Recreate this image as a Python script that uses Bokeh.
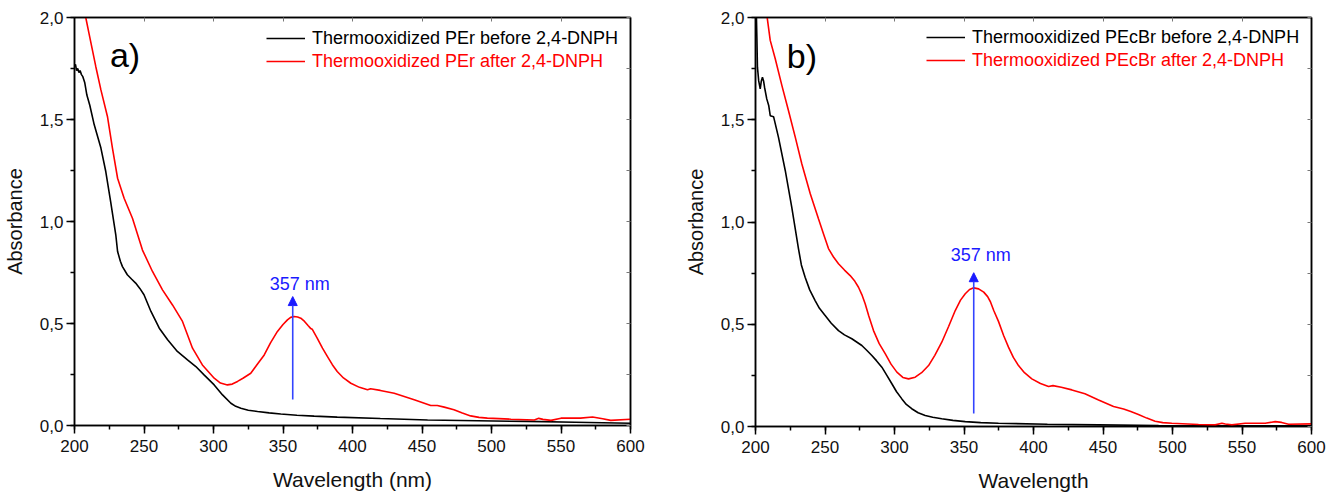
from bokeh.plotting import figure
from bokeh.layouts import row
from bokeh.models import (Range1d, LinearAxis, SingleIntervalTicker, FixedTicker, CustomJSTickFormatter,
                          Label, Arrow, NormalHead, Legend, LegendItem)
from bokeh.embed import file_html
from bokeh.resources import INLINE

FONT = "Liberation Sans"

# ---------------- data: panel a (PEr) ----------------
a_before_x = [200, 200.7, 201.5, 202.3, 203.2, 204, 205, 206, 207.4, 208.9, 211, 214.2, 219, 222.5, 226,
              229.7, 231, 233, 234.5, 238, 241, 244, 247, 250, 255, 261, 267, 274, 281.3, 287.3, 293.2, 300.5, 306.5,
              312.5, 316, 319.7, 325, 331.7, 340, 348.4, 360, 372.4, 389, 420, 454, 490, 526, 560, 600]
a_before_y = [1.76, 1.77, 1.74, 1.75, 1.73, 1.74, 1.72, 1.71, 1.68, 1.62, 1.57, 1.474, 1.36, 1.245, 1.098,
              0.935, 0.853, 0.805, 0.779, 0.739, 0.718, 0.698, 0.672, 0.641, 0.559, 0.477, 0.42, 0.363, 0.322, 0.289, 0.248, 0.199, 0.15,
              0.109, 0.094, 0.085, 0.075, 0.069, 0.062, 0.056, 0.05, 0.046, 0.041, 0.034, 0.027, 0.023, 0.02, 0.016, 0.011]
a_after_x = [206, 208.1, 210.5, 215.3, 219, 223.7, 227.3, 231, 235.7, 241.7, 248.9, 256.1, 263.3, 270.5,
             277.7, 284.9, 292, 300.5, 305, 310, 313.5, 317.3, 321.5, 326.8, 331, 336.5, 341, 346, 350, 353.2, 355.5,
             358, 360.5, 362.8, 365.5, 368, 370, 371, 374.5, 378.4, 382, 385.5, 389, 393.5, 398.8, 405, 410.8, 413, 420,
             430, 444.4, 456.3, 461, 466, 473, 479, 485, 491, 497, 514, 530.8, 534, 537, 542.8, 550, 564, 572.7,
             580, 585.8, 600]
a_after_y = [2.08, 2.0, 1.92, 1.76, 1.645, 1.515, 1.36, 1.212, 1.114, 1.016, 0.86, 0.755, 0.665, 0.591,
             0.51, 0.379, 0.297, 0.232, 0.208, 0.199, 0.203, 0.216, 0.233, 0.256, 0.295, 0.346, 0.405, 0.461, 0.495, 0.518, 0.53,
             0.534, 0.532, 0.526, 0.51, 0.49, 0.475, 0.472, 0.43, 0.379, 0.338, 0.298, 0.265, 0.233, 0.207, 0.187, 0.175, 0.18, 0.172,
             0.158, 0.126, 0.098, 0.098, 0.09, 0.077, 0.061, 0.047, 0.04, 0.036, 0.031, 0.027, 0.035, 0.03, 0.025, 0.036, 0.036, 0.042,
             0.033, 0.025, 0.031]

# ---------------- data: panel b (PEcBr) ----------------
b_before_x = [200, 200.5, 201, 201.4, 202.3, 203.4, 204.2, 205, 205.8, 206.5, 208.1, 209.5, 210.6, 213,
              216.5, 221.4, 226.1, 230.9, 233, 235.7, 239, 242.9, 246, 250.1, 254.5, 259.7, 264, 269.3, 276.5, 280,
              283.7, 287, 290.9, 294.5, 298.1, 301.5, 305.3, 308.5, 312.4, 317, 322.1, 327.5, 334, 342, 350.9, 362,
              374.8, 410, 446.8, 490, 540, 600]
b_before_y = [2.4, 2.05, 1.9, 1.757, 1.69, 1.651, 1.69, 1.708, 1.69, 1.659, 1.602, 1.57, 1.52, 1.515,
              1.415, 1.252, 1.072, 0.87, 0.79, 0.73, 0.668, 0.616, 0.578, 0.543, 0.505, 0.469, 0.448, 0.429, 0.396, 0.373,
              0.347, 0.322, 0.29, 0.25, 0.209, 0.17, 0.135, 0.108, 0.087, 0.067, 0.054, 0.045, 0.038, 0.03, 0.024, 0.019,
              0.016, 0.011, 0.008, 0.005, 0.004, 0.003]
b_after_x = [207, 208.6, 210.6, 214.2, 219, 223.7, 228.6, 233.3, 239.4, 245.3, 249, 252.5, 256, 259.7, 264, 268.1,
             271.5, 274.1, 276.5, 278.9, 281.5, 284.9, 289, 293.3, 297.5, 301.7, 306, 310.1, 314.9, 319.5, 324.5,
             329, 334, 339, 343.7, 347.5, 350.9, 354, 357, 360.5, 364.2, 367, 369, 371.4, 374.8, 378.5, 382, 385.5,
             389.2, 393.5, 398.8, 405, 410.8, 414, 420, 427.6, 437, 446.8, 457.6, 464.8, 470, 475.5, 481.5,
             487.5, 493, 499.5, 518.7, 530.7, 535.5, 538, 542.7, 552.3, 566.7, 573.9, 578.5, 583.5, 600]
b_after_y = [2.08, 1.99, 1.888, 1.798, 1.667, 1.545, 1.415, 1.285, 1.138, 1.016, 0.94, 0.87, 0.83, 0.796, 0.765, 0.738,
             0.71, 0.681, 0.645, 0.6, 0.54, 0.469, 0.405, 0.356, 0.305, 0.266, 0.24, 0.233, 0.241, 0.263, 0.298,
             0.348, 0.412, 0.49, 0.567, 0.618, 0.649, 0.67, 0.678, 0.673, 0.657, 0.635, 0.61, 0.567, 0.514, 0.445, 0.388, 0.338,
             0.298, 0.263, 0.233, 0.21, 0.196, 0.2, 0.192, 0.179, 0.16, 0.13, 0.098, 0.086, 0.073, 0.059, 0.041,
             0.026, 0.019, 0.016, 0.01, 0.008, 0.016, 0.012, 0.008, 0.016, 0.016, 0.024, 0.02, 0.011, 0.013]

# ---------------- labels / annotations ----------------
legend_a = ["Thermooxidized PEr before 2,4-DNPH", "Thermooxidized PEr after 2,4-DNPH"]
legend_b = ["Thermooxidized PEcBr before 2,4-DNPH", "Thermooxidized PEcBr after 2,4-DNPH"]
xtitle_a = "Wavelength (nm)"
xtitle_b = "Wavelength"
ytitle = "Absorbance"
peak_nm = 357
peak_text = "357 nm"
arrow_a = (0.127, 0.632)
arrow_b = (0.064, 0.752)
text_y_a = 0.695
text_y_b = 0.84
top_ticks = [200, 250, 300, 350, 400, 450, 500, 550, 600]
right_ticks = [0, 0.25, 0.5, 0.75, 1.0, 1.25, 1.5, 1.75, 2.0]


def make_panel(bx, by, ax, ay, legend, xtitle, letter, letter_x, arrow_y, text_y,
               border_left, border_right, border_top, frame_h, border_bottom, leg_x, leg_y):
    p = figure(frame_width=556, frame_height=frame_h, output_backend="svg", toolbar_location=None,
               x_range=Range1d(200, 600), y_range=Range1d(0, 2),
               min_border_left=border_left, min_border_right=border_right,
               min_border_top=border_top, min_border_bottom=border_bottom,
               x_axis_label=xtitle, y_axis_label=ytitle)
    p.grid.visible = False
    p.outline_line_color = "black"
    p.outline_line_width = 1.5
    p.background_fill_color = "white"
    p.border_fill_color = "white"

    r_before = p.line(bx, by, line_color="black", line_width=1.6)
    r_after = p.line(ax, ay, line_color="#ff0000", line_width=1.6)

    p.xaxis.ticker = SingleIntervalTicker(interval=50, num_minor_ticks=2)
    p.yaxis.ticker = SingleIntervalTicker(interval=0.5, num_minor_ticks=2)
    p.yaxis.formatter = CustomJSTickFormatter(code="return tick.toFixed(1).replace('.', ',');")
    for axis in (p.xaxis[0], p.yaxis[0]):
        axis.axis_line_width = 1.5
        axis.major_tick_line_width = 1.5
        axis.minor_tick_line_width = 1.5
        axis.major_tick_out = 8
        axis.major_tick_in = 0
        axis.minor_tick_out = 4
        axis.minor_tick_in = 0
        axis.major_label_text_font = FONT
        axis.major_label_text_font_size = "17px"
        axis.major_label_text_color = "#111111"
        axis.axis_label_text_font = FONT
        axis.axis_label_text_font_style = "normal"
        axis.axis_label_text_color = "#111111"
    p.xaxis.axis_label_text_font_size = "21px"
    p.yaxis.axis_label_text_font_size = "20px"
    p.xaxis.major_label_standoff = 6
    p.yaxis.major_label_standoff = 3
    p.xaxis.axis_label_standoff = 13
    p.yaxis.axis_label_standoff = 11

    # mirrored axes: only small inward (label-free) ticks
    top = LinearAxis(ticker=FixedTicker(ticks=[], minor_ticks=top_ticks),
                     minor_tick_in=4, minor_tick_out=0, major_tick_in=0, major_tick_out=0,
                     axis_line_width=1.5, minor_tick_line_color="#777777", minor_tick_line_width=1)
    right = LinearAxis(ticker=FixedTicker(ticks=[], minor_ticks=right_ticks),
                       minor_tick_in=4, minor_tick_out=0, major_tick_in=0, major_tick_out=0,
                       axis_line_width=1.5, minor_tick_line_color="#777777", minor_tick_line_width=1)
    p.add_layout(top, "above")
    p.add_layout(right, "right")

    # legends (one per entry so each text can have its own colour)
    for i, (rend, col) in enumerate(((r_before, "black"), (r_after, "#ff0000"))):
        lg = Legend(items=[LegendItem(label=legend[i], renderers=[rend])],
                    location=(leg_x, leg_y[i]), padding=0, margin=0, spacing=0,
                    glyph_width=39, glyph_height=20, label_height=20, label_standoff=7,
                    label_text_font=FONT, label_text_font_size="18px", label_text_color=col,
                    label_text_baseline="middle",
                    border_line_alpha=0, background_fill_alpha=0)
        p.add_layout(lg, "center")

    p.add_layout(Label(x=letter_x, y=1.814, text=letter, text_font=FONT, text_font_size="34px",
                       text_baseline="alphabetic", text_align="left", text_color="black"))
    p.add_layout(Label(x=362, y=text_y, text=peak_text, text_font=FONT, text_font_size="18px",
                       text_baseline="alphabetic", text_align="center", text_color="#1a1aff"))
    p.add_layout(Arrow(end=NormalHead(size=9, fill_color="#1a1aff", line_color="#1a1aff", line_width=1),
                       x_start=peak_nm, y_start=arrow_y[0], x_end=peak_nm, y_end=arrow_y[1],
                       line_color="#3344ff", line_width=1.6))
    return p


p1 = make_panel(a_before_x, a_before_y, a_after_x, a_after_y, legend_a, xtitle_a, "a)", 225.5,
                arrow_a, text_y_a, 71, 50, 15, 408, 54, 192, [376.5, 353.5])
p2 = make_panel(b_before_x, b_before_y, b_after_x, b_after_y, legend_b, xtitle_b, "b)", 222.5,
                arrow_b, text_y_b, 75, 17, 17, 409, 51, 171, [378.5, 355.5])

layout = row(p1, p2, spacing=0)
open("out.html", "w").write(file_html(layout, INLINE))
